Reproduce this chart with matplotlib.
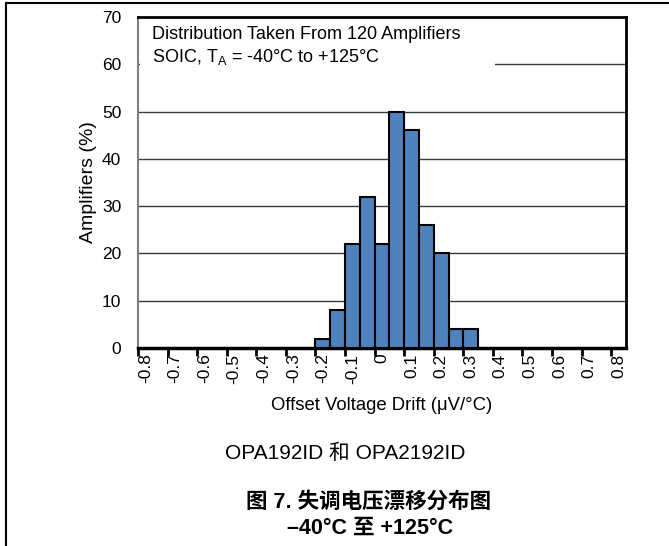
import matplotlib
matplotlib.use("Agg")
import matplotlib.pyplot as plt
from matplotlib.lines import Line2D
from matplotlib.patches import Rectangle

plt.rcParams['font.family'] = ['Liberation Sans', 'Noto Sans CJK SC', 'DejaVu Sans']
plt.rcParams['mathtext.fontset'] = 'custom'
plt.rcParams['mathtext.rm'] = 'Liberation Sans'
plt.rcParams['mathtext.it'] = 'Liberation Sans:italic'

# histogram data (bin centres in uV/C, percentage of amplifiers)
drift_bins = [-0.2, -0.15, -0.1, -0.05, 0.0, 0.05, 0.1, 0.15, 0.2, 0.25, 0.3]
amplifiers_pct = [2, 8, 22, 32, 22, 50, 46, 26, 20, 4, 4]
tick_labels = ['-0.8', '-0.7', '-0.6', '-0.5', '-0.4', '-0.3', '-0.2', '-0.1', '0',
               '0.1', '0.2', '0.3', '0.4', '0.5', '0.6', '0.7', '0.8']
y_ticks = [0, 10, 20, 30, 40, 50, 60, 70]

W, H = 669, 546
fig = plt.figure(figsize=(W / 100, H / 100), dpi=100)
ax = fig.add_axes([138 / W, (H - 348) / H, 488 / W, 331 / H])

bin_w = 0.05
ax.bar(drift_bins, amplifiers_pct, width=bin_w, color='#4F81BD',
       edgecolor='black', linewidth=1.5, zorder=3)

ax.set_xlim(-0.8 - bin_w / 2, 0.8 + bin_w / 2)
ax.set_ylim(0, 70)

# y axis
ax.set_yticks(y_ticks)
ax.tick_params(axis='y', length=0, pad=12, labelsize=12.5)
for v in y_ticks[1:-1]:
    ax.axhline(v, color='#3a3a3a', lw=1.0, zorder=0.5)

# x axis: tick marks at bin boundaries, labels at bin centres
label_pos = [-0.8 + 0.1 * i for i in range(len(tick_labels))]
ax.set_xticks([p - bin_w / 2 for p in label_pos])
ax.set_xticklabels([])
ax.tick_params(axis='x', which='major', direction='out', length=6, width=2, color='black')
ax.set_xticks(label_pos, minor=True)
ax.set_xticklabels(tick_labels, minor=True, rotation=90, va='top', ha='center', fontsize=12.5)
ax.tick_params(axis='x', which='minor', length=0, pad=4)

ax.spines['left'].set_color('#808080')
ax.spines['left'].set_linewidth(1.5)
for s in ['top', 'right']:
    ax.spines[s].set_linewidth(2)
ax.spines['bottom'].set_linewidth(2.5)

ax.set_ylabel('Amplifiers (%)', fontsize=14)
ax.yaxis.set_label_coords((97 - 138) / 488, 0.5)
ax.set_xlabel('Offset Voltage Drift (μV/°C)', fontsize=13.3)
ax.xaxis.set_label_coords(0.5, -(397 - 348) / 331)

# annotation box covering the gridline
ax.add_patch(Rectangle((0.004, 0.825), 0.728, 0.17, transform=ax.transAxes,
                       facecolor='white', edgecolor='none', zorder=1))
ax.text(0.029, 0.946, 'Distribution Taken From 120 Amplifiers', transform=ax.transAxes,
        fontsize=13, va='center', ha='left', zorder=4)
ax.text(0.029, 0.879, r'SOIC, T$_\mathrm{A}$ = -40°C to +125°C', transform=ax.transAxes,
        fontsize=13, va='center', ha='left', zorder=4)

# page border
fig.add_artist(Line2D([6 / W, 1], [1 - 3 / H, 1 - 3 / H], color='black', lw=1.5))
fig.add_artist(Line2D([6 / W, 6 / W], [0, 1 - 3 / H], color='black', lw=1.5))

# captions
fig.text(345 / W, 1 - 453 / H, 'OPA192ID 和 OPA2192ID', fontsize=15, ha='center', va='center')
fig.text(369 / W, 1 - 502 / H, '图 7. 失调电压漂移分布图', fontsize=15.5,
         fontweight='bold', ha='center', va='center')
fig.text(370 / W, 1 - 528 / H, '–40°C 至 +125°C', fontsize=15.5,
         fontweight='bold', ha='center', va='center')

fig.savefig('out.png', dpi=100)
